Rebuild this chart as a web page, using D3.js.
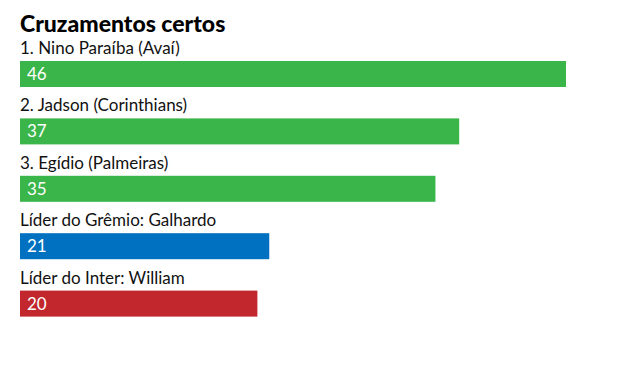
<!DOCTYPE html>
<html>
<head>
<meta charset="utf-8">
<script src="https://cdn.jsdelivr.net/npm/d3@7"></script>
<style>
  body { margin: 0; background: #fff; }
  text { font-family: Lato, "Open Sans", sans-serif; }
</style>
</head>
<body>
<svg id="chart" width="640" height="386"></svg>
<script>
// dados
var labels = ["1. Nino Paraíba (Avaí)", "2. Jadson (Corinthians)", "3. Egídio (Palmeiras)", "Líder do Grêmio: Galhardo", "Líder do Inter: William"];
var values = [46, 37, 35, 21, 20];
var colors = ["#3ab54a", "#3ab54a", "#3ab54a", "#0070c0", "#c1272d"];

var svg = d3.select("#chart");

var x = d3.scaleLinear().domain([0, 46]).range([20, 566]);
var y = d3.scaleBand().domain(d3.range(labels.length)).range([39, 326]).paddingInner(0);

svg.append("text")
    .attr("x", 20).attr("y", 32)
    .style("font-size", "23px").style("font-weight", "900")
    .attr("fill", "#000")
    .text("Cruzamentos certos");

var g = svg.selectAll("g.row")
    .data(values)
    .enter().append("g")
    .attr("class", "row")
    .attr("transform", function(d, i) { return "translate(0," + y(i) + ")"; });

g.append("text")
    .attr("x", 20).attr("y", 15)
    .style("font-size", "17px")
    .attr("fill", "#111")
    .text(function(d, i) { return labels[i]; });

g.append("rect")
    .attr("x", x(0)).attr("y", 22)
    .attr("width", function(d) { return x(d) - x(0); })
    .attr("height", 26)
    .attr("fill", function(d, i) { return colors[i]; });

g.append("text")
    .attr("x", 27).attr("y", 41)
    .style("font-size", "17px")
    .attr("fill", "#fff")
    .text(function(d) { return d; });
</script>
</body>
</html>
